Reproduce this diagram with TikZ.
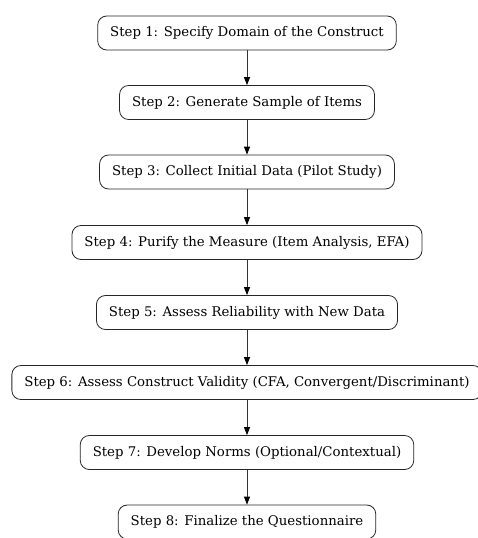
\documentclass[tikz,border=0pt]{standalone}
\usepackage{fontspec}
\setmainfont{DejaVu Serif}
\usetikzlibrary{arrows.meta}

\begin{document}
\begin{tikzpicture}[x=1pt, y=1pt]
  \useasboundingbox (0,0) rectangle (477,-538);

  \tikzstyle{stepbox}=[draw=black!85, line width=0.8pt, rounded corners=9pt, minimum height=34pt, inner xsep=12.5pt, fill=white, font=\fontsize{13.3}{15}\selectfont]
  \tikzstyle{flow}=[draw=black!80, line width=0.8pt, -{Triangle[length=8pt, width=6pt, black]}]

  % Schritte
  \node[stepbox] (s1) at (247,-33) {Step 1: Specify Domain of the Construct};
  \node[stepbox] (s2) at (247,-102.5) {Step 2: Generate Sample of Items};
  \node[stepbox] (s3) at (247,-172) {Step 3: Collect Initial Data (Pilot Study)};
  \node[stepbox] (s4) at (247,-242.5) {Step 4: Purify the Measure (Item Analysis, EFA)};
  \node[stepbox] (s5) at (247,-312.5) {Step 5: Assess Reliability with New Data};
  \node[stepbox] (s6) at (247,-382.5) {Step 6: Assess Construct Validity (CFA, Convergent/Discriminant)};
  \node[stepbox] (s7) at (247,-452.5) {Step 7: Develop Norms (Optional/Contextual)};
  \node[stepbox] (s8) at (247,-522) {Step 8: Finalize the Questionnaire};

  % Pfeile
  \path[flow] (s1) edge (s2);
  \path[flow] (s2) edge (s3);
  \path[flow] (s3) edge (s4);
  \path[flow] (s4) edge (s5);
  \path[flow] (s5) edge (s6);
  \path[flow] (s6) edge (s7);
  \path[flow] (s7) edge (s8);
\end{tikzpicture}
\end{document}
